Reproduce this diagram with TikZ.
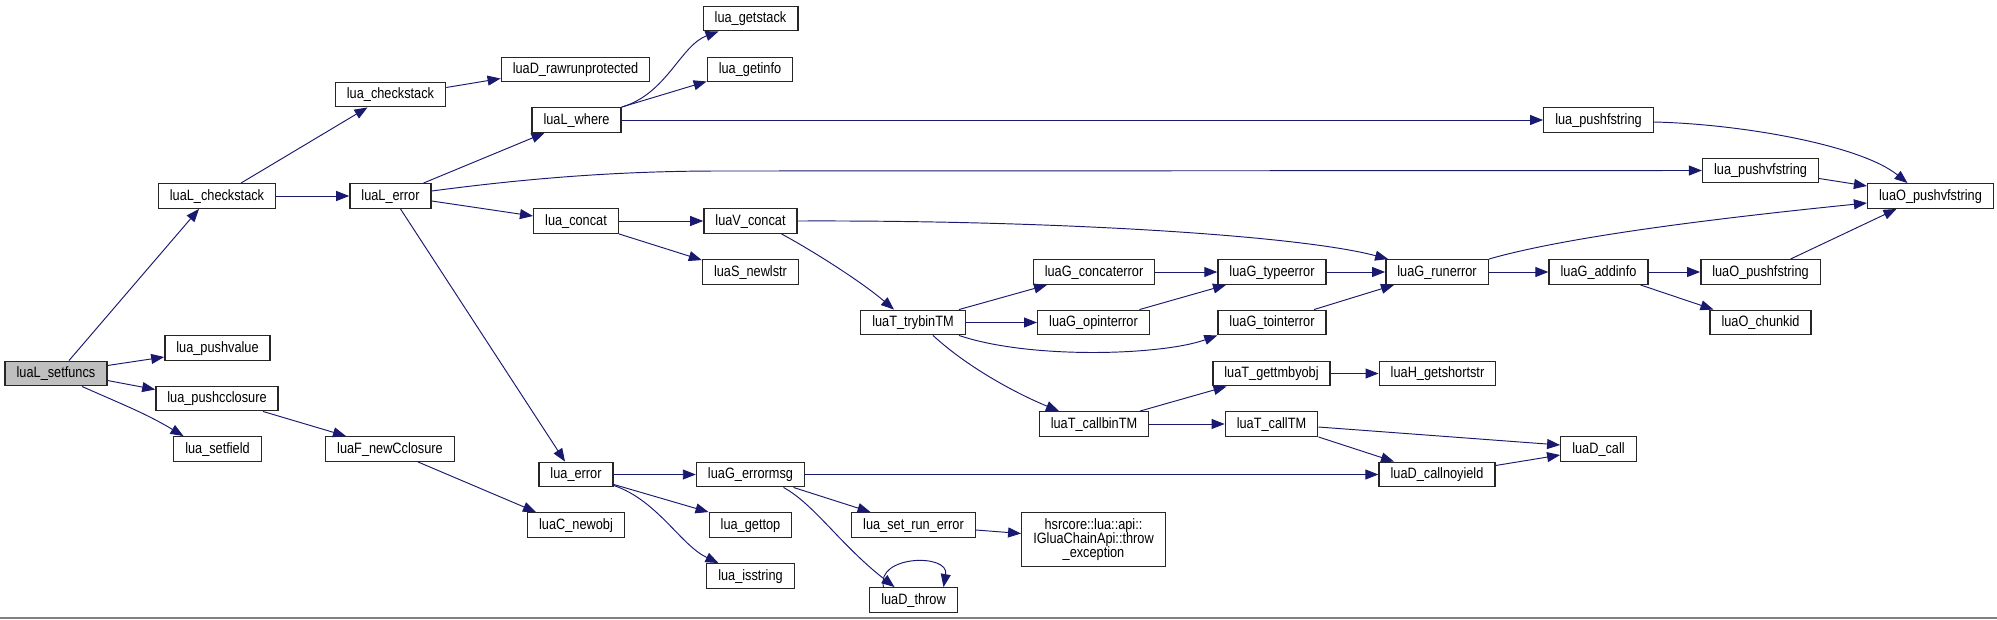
\documentclass[tikz,border=0pt]{standalone}
\usepackage{fontspec}
\setmainfont{Liberation Sans}[FakeStretch=0.85]
\usepackage{xcolor}
\usepackage{tikz}
\usetikzlibrary{positioning, arrows.meta, calc}
\definecolor{edgeblue}{RGB}{25,25,112}
\definecolor{rootgray}{RGB}{191,191,191}

\begin{document}
\begin{tikzpicture}[x=1pt, y=1pt,
    box/.style={draw=black!85, line width=1.4pt, fill=white, inner xsep=11.5pt, inner ysep=0pt, font=\fontsize{15}{17}\selectfont},
    fn/.style={box, minimum height=24.5pt, text height=11pt, text depth=3pt},
    calls/.style={draw=edgeblue, line width=0.95pt, -{Triangle[length=13pt,width=10pt]}}]
  \useasboundingbox (0,0) rectangle (1997,-619);
  \fill[white] (0,0) rectangle (1997,-619);
  \draw[gray, line width=1.5pt] (0,-618) -- (1997,-618);

  \node[fn, fill=rootgray] (setfuncs) at (56,-373.5) {luaL\_setfuncs};
  \foreach \nm/\x/\y/\txt in {
      Lchk/217/196/luaL\_checkstack, pushvalue/217.5/348/lua\_pushvalue,
      pushcclosure/217/398.5/lua\_pushcclosure, setfield/217.5/449/lua\_setfield,
      checkstack/390.5/94.5/lua\_checkstack, Lerror/390.5/196/luaL\_error,
      newCclosure/390/449/luaF\_newCclosure, rawrun/575.5/69.5/luaD\_rawrunprotected,
      where/576.5/120/luaL\_where, concat/576/221/lua\_concat,
      error/576/474.5/lua\_error, newobj/576/525/luaC\_newobj,
      getstack/750.5/18.5/lua\_getstack, getinfo/750/69.5/lua\_getinfo,
      Vconcat/750.5/221/luaV\_concat, newlstr/750.5/272/luaS\_newlstr,
      errormsg/750.5/474.5/luaG\_errormsg, gettop/750.5/525/lua\_gettop,
      isstring/750.5/576/lua\_isstring, trybinTM/913/322.5/luaT\_trybinTM,
      setrunerror/913.5/525/lua\_set\_run\_error, throw/913.5/600/luaD\_throw,
      concaterror/1094/272/luaG\_concaterror, opinterror/1093.5/322.5/luaG\_opinterror,
      callbinTM/1094/424/luaT\_callbinTM, typeerror/1272/272/luaG\_typeerror,
      tointerror/1272/322.5/luaG\_tointerror, gettmbyobj/1271.5/373.5/luaT\_gettmbyobj,
      callTM/1271.5/424/luaT\_callTM, runerror/1437/272/luaG\_runerror,
      getshortstr/1437.5/373.5/luaH\_getshortstr, callnoyield/1437/474.5/luaD\_callnoyield,
      pushfstring/1598.5/120/lua\_pushfstring, addinfo/1598.5/272/luaG\_addinfo,
      Dcall/1598.5/449/luaD\_call, pushvfstring/1760.5/170.5/lua\_pushvfstring,
      Opushfstring/1760.5/272/luaO\_pushfstring, chunkid/1760.5/322.5/luaO\_chunkid,
      Opushvfstring/1930.5/196/luaO\_pushvfstring} {
    \node[fn] (\nm) at (\x,-\y) {\txt};
  }
  \node[box, align=center, minimum height=53.5pt, font=\fontsize{15}{14}\selectfont] (throwex) at (1093.5,-539.5)
    {hsrcore::lua::api::\\IGluaChainApi::throw\\\_exception};

  % straight calls on one row
  \foreach \a/\b in {Lchk/Lerror, where/pushfstring, concat/Vconcat, trybinTM/opinterror,
      concaterror/typeerror, typeerror/runerror, runerror/addinfo, addinfo/Opushfstring,
      callbinTM/callTM, gettmbyobj/getshortstr, error/errormsg, errormsg/callnoyield}
    \draw[calls] (\a) -- (\b);

  \draw[calls] ([xshift=13pt]setfuncs.north) -- ([xshift=-18pt]Lchk.south);
  \draw[calls] ([yshift=8pt]setfuncs.east) -- ([yshift=-9pt]pushvalue.west);
  \draw[calls] ([yshift=-7pt]setfuncs.east) -- ([yshift=9pt]pushcclosure.west);
  \draw[calls] ([xshift=26pt]setfuncs.south) to[out=-24,in=149] ([xshift=-34pt]setfield.north);
  \draw[calls] ([xshift=24pt]Lchk.north) -- ([xshift=-23pt]checkstack.south);
  \draw[calls] ([yshift=7pt]checkstack.east) -- ([yshift=-9pt]rawrun.west);
  \draw[calls] ([xshift=33pt]Lerror.north) -- ([xshift=-32pt]where.south);
  \draw[calls] ([yshift=5pt]Lerror.east) .. controls (530,-178) and (620,-171) .. (720,-171) -- (pushvfstring.west);
  \draw[calls] ([yshift=-5pt]Lerror.east) -- ([yshift=5pt]concat.west);
  \draw[calls] ([xshift=10pt]Lerror.south) -- ([xshift=-11pt]error.north);
  \draw[calls] (where.north east) .. controls +(45,13) and +(-38,-14) .. ([xshift=-32pt]getstack.south);
  \draw[calls] (where.north east) -- ([yshift=1pt]getinfo.south west);
  \draw[calls] ([yshift=-2pt]pushfstring.east) .. controls +(87,-2) and +(-47,38) .. ([xshift=-23pt]Opushvfstring.north);
  \draw[calls] ([yshift=-8pt]pushvfstring.east) -- ([yshift=10pt]Opushvfstring.west);
  \draw[calls] (concat.south east) -- ([yshift=-1pt]newlstr.north west);
  \draw[calls] (Vconcat.east) .. controls +(252,1) and +(-90,24) .. ([xshift=3pt]runerror.north west);
  \draw[calls] ([xshift=31pt]Vconcat.south) .. controls +(28,-15) and +(-34,29) .. ([xshift=-19pt]trybinTM.north);
  \draw[calls] ([xshift=46pt]trybinTM.north) -- ([xshift=-47pt]concaterror.south);
  \draw[calls] ([xshift=46pt]trybinTM.south) .. controls +(71,-24) and +(-56,-20) .. (tointerror.south west);
  \draw[calls] ([xshift=20pt]trybinTM.south) .. controls +(37,-34) and +(-39,16) .. ([xshift=-35pt]callbinTM.north);
  \draw[calls] ([xshift=46pt]opinterror.north) -- ([xshift=-46pt]typeerror.south);
  \draw[calls] ([xshift=42pt]tointerror.north) -- ([xshift=-43pt]runerror.south);
  \draw[calls] (runerror.north east) .. controls +(73,21) and +(-168,-17) .. ([yshift=-7pt]Opushvfstring.west);
  \draw[calls] ([xshift=42pt]addinfo.south) -- ([xshift=-47pt]chunkid.north);
  \draw[calls] ([xshift=30pt]Opushfstring.north) -- ([xshift=-34pt]Opushvfstring.south);
  \draw[calls] ([xshift=46pt]callbinTM.north) -- ([xshift=-45pt]gettmbyobj.south);
  \draw[calls] ([yshift=-3pt]callTM.east) -- ([yshift=4pt]Dcall.west);
  \draw[calls] (callTM.south east) -- ([xshift=-43pt]callnoyield.north);
  \draw[calls] ([yshift=9pt]callnoyield.east) -- ([yshift=-6pt]Dcall.west);
  \draw[calls] ([xshift=46pt]pushcclosure.south) -- ([xshift=-44pt]newCclosure.north);
  \draw[calls] ([xshift=28pt]newCclosure.south) -- ([xshift=-40pt]newobj.north);
  \draw[calls] ([yshift=3pt]error.south east) -- (gettop.north west);
  \draw[calls] ([yshift=2pt]error.south east) .. controls +(44,-15) and +(-38,18) .. ([xshift=-32pt]isstring.north);
  \draw[calls] ([xshift=43pt]errormsg.south) -- ([xshift=-43pt]setrunerror.north);
  \draw[calls] ([xshift=33pt]errormsg.south) .. controls +(31,-17) and +(-54,42) .. ([xshift=-19pt]throw.north);
  \draw[calls] ([yshift=-5pt]setrunerror.east) -- ([yshift=6pt]throwex.west);
  \draw[calls] ([xshift=-30pt]throw.north) .. controls +(-8,32) and +(6,34) .. ([xshift=30pt]throw.north);
\end{tikzpicture}
\end{document}
